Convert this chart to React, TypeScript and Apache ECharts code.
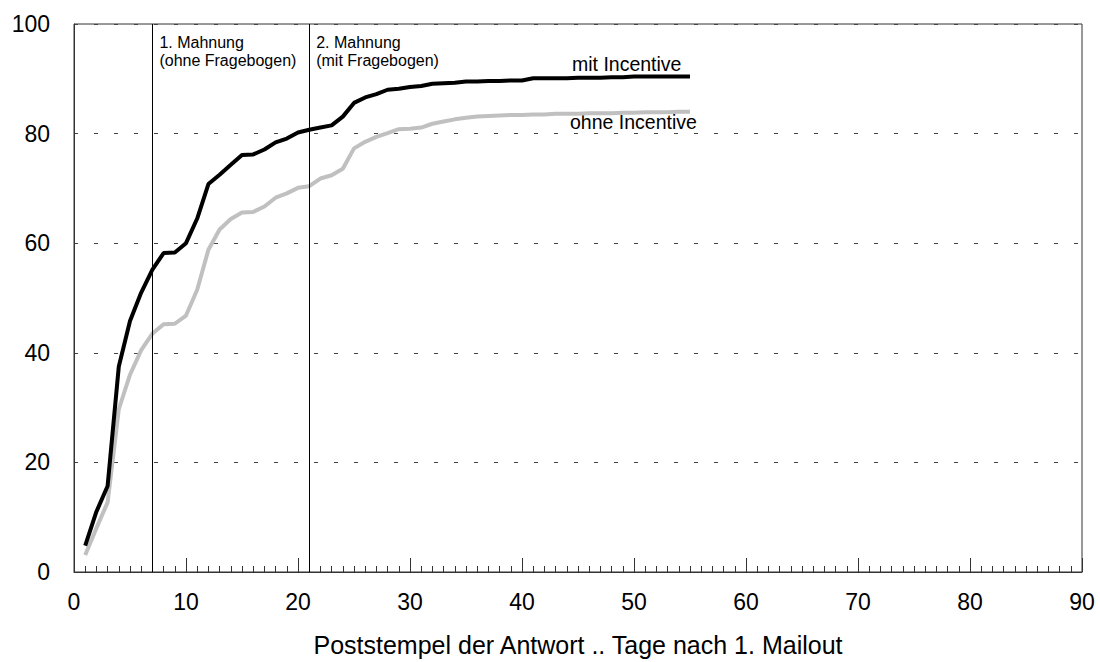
import React, { useEffect, useRef } from "react";
import * as echarts from "echarts";

const days = [1,2,3,4,5,6,7,8,9,10,11,12,13,14,15,16,17,18,19,20,21,22,23,24,25,26,27,28,29,30,31,32,33,34,35,36,37,38,39,40,41,42,43,44,45,46,47,48,49,50,51,52,53,54,55];
const mitIncentive = [4.8,11,15.7,37.5,45.8,51,55.2,58.2,58.3,60,64.5,70.8,72.5,74.3,76.1,76.2,77.1,78.4,79.1,80.2,80.7,81.1,81.5,83.1,85.6,86.6,87.2,88,88.2,88.5,88.7,89.1,89.2,89.3,89.5,89.5,89.6,89.6,89.7,89.7,90.1,90.1,90.1,90.1,90.2,90.2,90.2,90.3,90.3,90.4,90.4,90.4,90.4,90.4,90.4];
const ohneIncentive = [3.1,8,12.7,29.7,36,40.5,43.5,45.2,45.3,46.8,51.5,58.8,62.5,64.4,65.6,65.7,66.7,68.3,69.1,70.1,70.4,71.8,72.4,73.6,77.3,78.5,79.4,80.1,80.8,80.9,81.1,81.8,82.2,82.6,82.9,83.1,83.2,83.3,83.4,83.4,83.5,83.5,83.6,83.6,83.6,83.7,83.7,83.7,83.8,83.8,83.9,83.9,83.9,84,84];
const reminderDays = [7, 21];
const reminderLabels = ["1. Mahnung\n(ohne Fragebogen)", "2. Mahnung\n(mit Fragebogen)"];
const seriesNames = ["mit Incentive", "ohne Incentive"];
const xTitle = "Poststempel der Antwort .. Tage nach 1. Mailout";

export default function App() {
  const ref = useRef<HTMLDivElement>(null);
  useEffect(() => {
    if (!ref.current) return;
    const chart = echarts.init(ref.current, null, { renderer: "svg" });
    const font = "'Liberation Sans', Arial, sans-serif";
    chart.setOption({
      animation: false,
      textStyle: { fontFamily: font },
      grid: { left: 74, top: 24, right: 18, bottom: 89, show: true, borderColor: "#333", borderWidth: 1 },
      xAxis: {
        type: "value",
        min: 0,
        max: 90,
        interval: 10,
        name: xTitle,
        nameLocation: "middle",
        nameGap: 60,
        nameTextStyle: { fontSize: 25, color: "#000", fontFamily: font },
        axisLine: { lineStyle: { color: "#333", width: 1 } },
        axisTick: { show: true, inside: true, length: 14, lineStyle: { color: "#333" } },
        minorTick: { show: true, splitNumber: 10, length: 6, lineStyle: { color: "#333" } },
        axisLabel: { fontSize: 23, color: "#000", margin: 18, fontFamily: font },
        splitLine: { show: false },
      },
      yAxis: {
        type: "value",
        min: 0,
        max: 100,
        interval: 20,
        axisLine: { show: true, lineStyle: { color: "#333", width: 1 } },
        axisTick: { show: false },
        axisLabel: { fontSize: 23, color: "#000", margin: 24, fontFamily: font },
        splitLine: { show: true, lineStyle: { color: "#444", type: [4, 16], width: 1 } },
      },
      series: [
        {
          name: seriesNames[1],
          type: "line",
          data: days.map((d, i) => [d, ohneIncentive[i]]),
          symbol: "none",
          lineStyle: { color: "#c0c0c0", width: 4 },
          markLine: {
            symbol: "none",
            silent: true,
            label: { show: false },
            lineStyle: { color: "#000", width: 1, type: "solid" },
            data: reminderDays.map((d) => ({ xAxis: d })),
          },
        },
        {
          name: seriesNames[0],
          type: "line",
          data: days.map((d, i) => [d, mitIncentive[i]]),
          symbol: "none",
          lineStyle: { color: "#000", width: 4 },
        },
      ],
    });
    const p7 = chart.convertToPixel({ gridIndex: 0 }, [reminderDays[0], 100]);
    const p21 = chart.convertToPixel({ gridIndex: 0 }, [reminderDays[1], 100]);
    chart.setOption({
      graphic: [
        { type: "text", left: p7[0] + 7, top: 33, style: { text: reminderLabels[0], font: "16px " + font, fill: "#000", lineHeight: 18 } },
        { type: "text", left: p21[0] + 7, top: 33, style: { text: reminderLabels[1], font: "16px " + font, fill: "#000", lineHeight: 18 } },
        { type: "text", left: 572, top: 54, style: { text: seriesNames[0], font: "19.5px " + font, fill: "#000" } },
        { type: "text", left: 570, top: 112, style: { text: seriesNames[1], font: "19.5px " + font, fill: "#000" } },
      ],
    });
    return () => chart.dispose();
  }, []);
  return <div ref={ref} style={{ position: "fixed", left: 0, top: 0, width: 1100, height: 662, background: "#fff" }} />;
}
